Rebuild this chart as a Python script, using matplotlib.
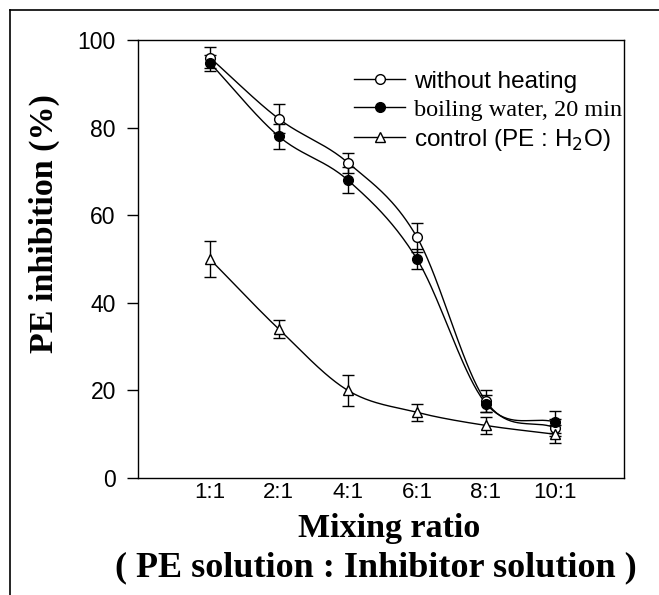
import numpy as np
import matplotlib
matplotlib.use("Agg")
import matplotlib.pyplot as plt
from matplotlib.lines import Line2D

ratios = ["1:1", "2:1", "4:1", "6:1", "8:1", "10:1"]

no_heat = [96, 82, 72, 55, 17.5, 11.5]
no_heat_err = [2.5, 3.3, 2.3, 3.3, 2.5, 2.0]

boiled = [94.8, 78, 68, 50, 17, 12.8]
boiled_err = [1.8, 2.8, 3.0, 2.3, 2.0, 2.5]

control = [50, 34, 20, 15, 12, 10]
control_err = [4.0, 2.0, 3.5, 2.0, 2.0, 2.0]


def smooth(x, y, n=40):
    # cubic hermite through the points, only for the drawn line
    x = np.asarray(x, float)
    y = np.asarray(y, float)
    m = np.gradient(y, x)
    xs, ys = [], []
    for i in range(len(x) - 1):
        h = x[i + 1] - x[i]
        t = np.linspace(0, 1, n)
        h00 = 2 * t**3 - 3 * t**2 + 1
        h10 = t**3 - 2 * t**2 + t
        h01 = -2 * t**3 + 3 * t**2
        h11 = t**3 - t**2
        xs.append(x[i] + t * h)
        ys.append(h00 * y[i] + h10 * h * m[i] + h01 * y[i + 1] + h11 * h * m[i + 1])
    return np.concatenate(xs), np.concatenate(ys)


fig = plt.figure(figsize=(6.59, 5.95), dpi=100)
ax = fig.add_axes([0.2094, 0.1966, 0.7375, 0.7362])

xpos = np.arange(len(ratios))
series = [
    (no_heat, no_heat_err, "o", "white"),
    (boiled, boiled_err, "o", "black"),
    (control, control_err, "^", "white"),
]
for vals, err, mk, fc in series:
    sx, sy = smooth(xpos, vals)
    ax.plot(sx, sy, color="black", lw=1.0, zorder=2)
    ax.errorbar(xpos, vals, yerr=err, fmt="none", ecolor="black",
                elinewidth=1.0, capsize=4.5, capthick=1.0, zorder=3)
    ax.plot(xpos, vals, linestyle="none", marker=mk, ms=7,
            mfc=fc, mec="black", mew=1.0, zorder=4)

ax.set_xlim(-1.04, 6.0)
ax.set_ylim(0, 100)
ax.set_yticks([0, 20, 40, 60, 80, 100])
ax.set_xticks(xpos)
ax.set_xticklabels(ratios)
ax.tick_params(axis="y", direction="out", length=8, width=1, pad=8,
               labelsize=16.5)
ax.tick_params(axis="x", length=0, pad=3, labelsize=16)
for lab in ax.get_xticklabels() + ax.get_yticklabels():
    lab.set_family("Liberation Sans")
for sp in ax.spines.values():
    sp.set_linewidth(1.0)

fig.text(0.068, 0.625, "PE inhibition (%)", family="Liberation Serif",
         fontweight="bold", fontsize=24.5, rotation=90,
         ha="center", va="center")
fig.text(0.59, 0.112, "Mixing ratio", family="Liberation Serif",
         fontweight="bold", fontsize=24.5, ha="center", va="center")
fig.text(0.571, 0.045, "( PE solution : Inhibitor solution )",
         family="Liberation Serif", fontweight="bold", fontsize=26,
         ha="center", va="center")

handles = [
    Line2D([], [], color="black", lw=1.0, marker="o", ms=7, mfc="white", mec="black"),
    Line2D([], [], color="black", lw=1.0, marker="o", ms=7, mfc="black", mec="black"),
    Line2D([], [], color="black", lw=1.0, marker="^", ms=7, mfc="white", mec="black"),
]
leg = ax.legend(handles, ["without heating", "boiling water, 20 min",
                          "control (PE : H$_2$O)"],
                loc="upper left", bbox_to_anchor=(0.445, 0.93), frameon=False,
                fontsize=17.5, handlelength=2.1, handletextpad=0.35,
                labelspacing=0.25, borderaxespad=0, borderpad=0)
fams = ["Liberation Sans", "Liberation Serif", "Liberation Sans"]
for t, f in zip(leg.get_texts(), fams):
    t.set_family(f)

# frame around the whole figure (top and left edges only in the scan)
fig.add_artist(Line2D([0.015, 1.0], [0.983, 0.983], color="black", lw=1.2,
                      transform=fig.transFigure))
fig.add_artist(Line2D([0.015, 0.015], [0.0, 0.983], color="black", lw=1.2,
                      transform=fig.transFigure))

fig.savefig("out.png", dpi=100)
